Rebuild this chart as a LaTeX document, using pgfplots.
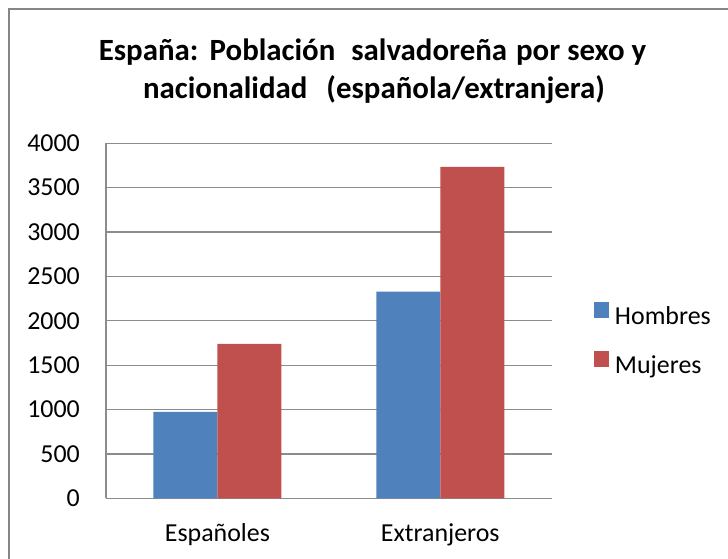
\documentclass[border=0pt]{standalone}
\usepackage{fontspec}
\setmainfont{Carlito}
\usepackage{pgfplots}
\pgfplotsset{compat=1.18}
\definecolor{cblue}{HTML}{4F81BD}
\definecolor{cred}{HTML}{C0504D}
\definecolor{gridc}{HTML}{8C8C8C}
\definecolor{framec}{HTML}{868686}
\begin{document}
\begin{tikzpicture}
\useasboundingbox (0,0) rectangle (728bp,559bp);
\fill[white] (0,0) rectangle (728bp,559bp);
\draw[framec, line width=2bp] (9.3bp,-5bp) -- (9.3bp,549.7bp) -- (735bp,549.7bp);
\node[anchor=base, inner sep=0pt, font=\fontsize{31}{33}\selectfont\bfseries] at (372.5bp,498bp)
  {España:\hspace{2bp} Población\hspace{9bp} salvadoreña\hspace{2bp} por sexo y};
\node[anchor=base, inner sep=0pt, font=\fontsize{31}{33}\selectfont\bfseries] at (374bp,460.7bp)
  {nacionalidad\hspace{12bp} (española/extranjera)};
\begin{axis}[
  at={(106bp,60.7bp)}, anchor=south west,
  scale only axis, width=445.7bp, height=355bp,
  ybar=0pt, bar width=64bp,
  xmin=-0.5, xmax=1.5, ymin=0, ymax=4000,
  xtick={0,1}, xticklabels={Españoles, Extranjeros},
  ytick={0,500,...,4000},
  scaled y ticks=false,
  /pgf/number format/1000 sep={},
  /pgf/number format/assume math mode=true,
  ymajorgrids, grid style={gridc, line width=1.2bp},
  axis x line*=bottom, axis y line*=left,
  axis line style={gridc, line width=1.2bp, -},
  tick style={draw=none}, major tick length=0pt,
  tick label style={font=\fontsize{26}{28}\selectfont, text=black},
  yticklabel style={anchor=east, inner sep=0pt, xshift=-26bp},
  xticklabel style={anchor=base, inner sep=0pt, yshift=-42.7bp},
  legend style={at={(1.0949,0.445)}, anchor=west, draw=none, fill=none,
    font=\fontsize{26}{28}\selectfont, row sep=21bp, inner sep=0pt, outer sep=0pt,
    nodes={inner sep=0pt, text height=18bp, text depth=5bp},
    /tikz/every odd column/.append style={column sep=6bp}},
  legend cell align=left,
  legend image code/.code={\fill[#1] (0bp,0bp) rectangle (15bp,16bp);},
]
\addplot[fill=cblue, draw=none] coordinates {(0,975) (1,2330)};
\addplot[fill=cred, draw=none] coordinates {(0,1740) (1,3735)};
\legend{Hombres, Mujeres}
\end{axis}
\end{tikzpicture}
\end{document}
